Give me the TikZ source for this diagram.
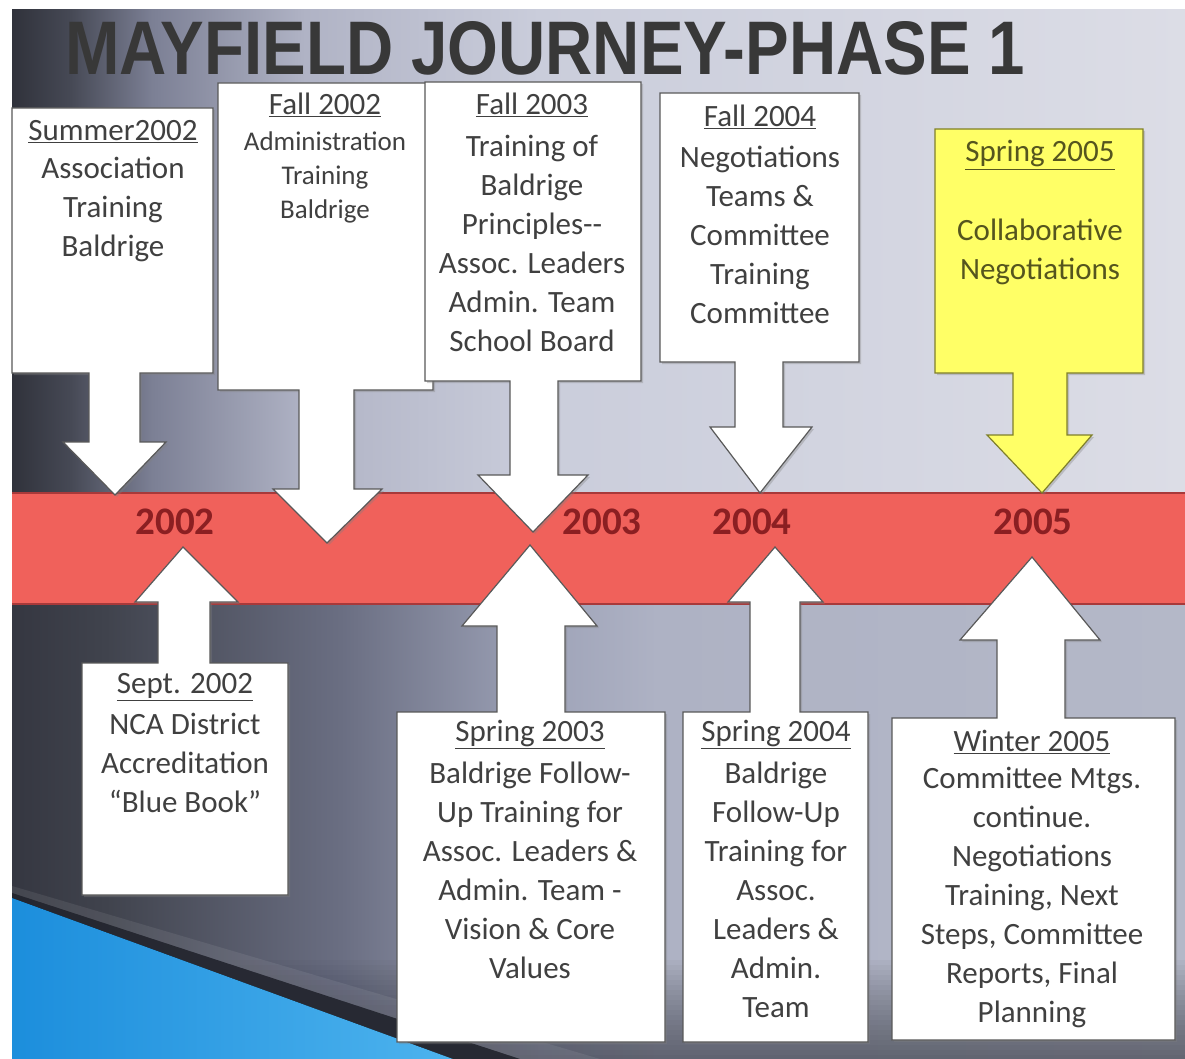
\documentclass[tikz,border=0pt]{standalone}
\usepackage{fontspec}
\setmainfont{Carlito}
\newfontfamily\titlefont{Liberation Sans}
\usetikzlibrary{shadows}

% palette
\definecolor{bgA}{HTML}{30323B}
\definecolor{bgB}{HTML}{464955}
\definecolor{bgC}{HTML}{7C8095}
\definecolor{bgD}{HTML}{B0B3C5}
\definecolor{bgE}{HTML}{CACDDB}
\definecolor{bgF}{HTML}{DCDDE6}
\definecolor{loA}{HTML}{353741}
\definecolor{loB}{HTML}{40434D}
\definecolor{loC}{HTML}{6A6E82}
\definecolor{loD}{HTML}{9EA3B8}
\definecolor{loE}{HTML}{AEB2C4}
\definecolor{loF}{HTML}{B4B8C8}
\definecolor{bandred}{HTML}{F0615B}
\definecolor{bandedge}{HTML}{A8393A}
\definecolor{yeartxt}{HTML}{8B1F22}
\definecolor{txt}{HTML}{404040}
\definecolor{hiyellow}{HTML}{FFFF66}
\definecolor{hiedge}{HTML}{7F7F2A}
\definecolor{hitxt}{HTML}{55551E}
\definecolor{blueA}{HTML}{1C8EDC}
\definecolor{blueB}{HTML}{4DB3EE}
\definecolor{navyband}{HTML}{23252E}

% TikZ fits the middle half (25bp..75bp) of a shading to the path
\pgfdeclarehorizontalshading{upperbg}{100bp}{color(0bp)=(bgA); color(25bp)=(bgA); color(27.5bp)=(bgB); color(31bp)=(bgC); color(37.5bp)=(bgD); color(47.5bp)=(bgE); color(75bp)=(bgF); color(100bp)=(bgF)}
\pgfdeclarehorizontalshading{lowerbg}{100bp}{color(0bp)=(loA); color(25bp)=(loA); color(29bp)=(loB); color(39bp)=(loC); color(47.5bp)=(loD); color(52.5bp)=(loE); color(75bp)=(loF); color(100bp)=(loF)}

\tikzset{
  callout/.style={fill=white, draw=black!65, line width=1.2pt, line join=miter,
    drop shadow={opacity=0.35, shadow xshift=2pt, shadow yshift=-2pt}},
  hicallout/.style={callout, fill=hiyellow, draw=hiedge},
  hdr/.style={inner sep=0pt, text=txt, font=\fontsize{31}{39}\selectfont},
  body/.style={inner sep=0pt, align=center, text=txt, font=\fontsize{31}{39}\selectfont},
  smallbody/.style={body, font=\fontsize{27}{34}\selectfont},
  year/.style={inner sep=0pt, text=yeartxt, font=\fontsize{39}{40}\selectfont\bfseries},
}

\begin{document}
\begin{tikzpicture}[x=1pt, y=-1pt]
\useasboundingbox (0,0) rectangle (1185,1059);
\fill[white] (0,0) rectangle (1185,1059);

% backdrop
\fill[shading=upperbg] (12,10) rectangle (1185,500);
\fill[shading=lowerbg] (12,598) rectangle (1185,1059);
% darker towards the lower edge
\foreach \k in {0,...,19}
  \fill[navyband, opacity=0.035] (12,960+5*\k) rectangle (1185,1059);

% blue corner with its dark rim
\fill[white, opacity=0.08] (12,886) -- (600,1059) -- (520,1059) -- (12,893) -- cycle;
\fill[navyband, opacity=0.9] (12,893) -- (520,1059) -- (12,1059) -- cycle;
\fill[left color=blueA, right color=blueB] (12,898) -- (453,1059) -- (12,1059) -- cycle;

% title
\node[anchor=base west, inner sep=0pt, text=black!78] (title) at (65,75)
  {\resizebox{960pt}{53pt}{\titlefont\bfseries MAYFIELD JOURNEY-PHASE 1}};

% timeline band
\fill[bandred] (12,493) rectangle (1185,604);
\draw[bandedge, line width=1.2pt] (12,493) -- (1185,493) (12,604) -- (1185,604);

\node[year] (y2002) at (175,522) {2002};
\node[year] (y2003) at (602,522) {2003};
\node[year] (y2004) at (752,522) {2004};
\node[year] (y2005) at (1033,522) {2005};

% callouts above the band
\path[callout] (12,108) -- (213,108) -- (213,373) -- (140,373) -- (140,442) -- (166,442)
  -- (115,495) -- (63,442) -- (89,442) -- (89,373) -- (12,373) -- cycle;
\path[callout] (218,83) -- (433,83) -- (433,390) -- (354,390) -- (354,489) -- (382,489)
  -- (327,543) -- (273,489) -- (299,489) -- (299,390) -- (218,390) -- cycle;
\path[callout] (425,82) -- (641,82) -- (641,381) -- (558,381) -- (558,475) -- (588,475)
  -- (533,532) -- (478,475) -- (510,475) -- (510,381) -- (425,381) -- cycle;
\path[callout] (660,93) -- (859,93) -- (859,362) -- (783,362) -- (783,427) -- (812,427)
  -- (760,493) -- (710,427) -- (735,427) -- (735,362) -- (660,362) -- cycle;
\path[hicallout] (935,129) -- (1143,129) -- (1143,373) -- (1067,373) -- (1067,435) -- (1092,435)
  -- (1042,493) -- (987,435) -- (1013,435) -- (1013,373) -- (935,373) -- cycle;

% callouts below the band
\path[callout] (82,895) -- (288,895) -- (288,663) -- (210,663) -- (210,602) -- (238,602)
  -- (183,547) -- (135,602) -- (158,602) -- (158,663) -- (82,663) -- cycle;
\path[callout] (397,1042) -- (665,1042) -- (665,712) -- (565,712) -- (565,626) -- (597,626)
  -- (530,545) -- (462,626) -- (497,626) -- (497,712) -- (397,712) -- cycle;
\path[callout] (683,1042) -- (868,1042) -- (868,712) -- (800,712) -- (800,602) -- (823,602)
  -- (775,547) -- (728,602) -- (750,602) -- (750,712) -- (683,712) -- cycle;
\path[callout] (892,1040) -- (1175,1040) -- (1175,718) -- (1065,718) -- (1065,640) -- (1100,640)
  -- (1032,557) -- (960,640) -- (997,640) -- (997,718) -- (892,718) -- cycle;

% texts above
\node[hdr] (h1) at (113,132) {\underline{Summer2002}};
\node[body] (b1) at (113,209) {Association\\Training\\Baldrige};

\node[hdr] (h2) at (325,105) {\underline{Fall 2002}};
\node[smallbody] (b2) at (325,177) {Administration\\Training\\Baldrige};

\node[hdr] (h3) at (532,105) {\underline{Fall 2003}};
\node[body] (b3) at (532,243) {Training of\\Baldrige\\Principles-{}-\\Assoc. Leaders\\Admin. Team\\School Board};

\node[hdr] (h4) at (760,117) {\underline{Fall 2004}};
\node[body] (b4) at (760,235) {Negotiations\\Teams \&\\Committee\\Training\\Committee};

\node[hdr, text=hitxt] (h5) at (1040,155) {\underline{Spring 2005}};
\node[body, text=hitxt] (b5) at (1040,252) {Collaborative\\Negotiations};

% texts below
\node[hdr] (h6) at (185,687) {\underline{Sept. 2002}};
\node[body] (b6) at (185,763) {NCA District\\Accreditation\\“Blue Book”};

\node[hdr] (h7) at (530,734) {\underline{Spring 2003}};
\node[body] (b7) at (530,870) {Baldrige Follow-\\Up Training for\\Assoc. Leaders \&\\Admin. Team -\\Vision \& Core\\Values};

\node[hdr] (h8) at (776,734) {\underline{Spring 2004}};
\node[body] (b8) at (776,890) {Baldrige\\Follow-Up\\Training for\\Assoc.\\Leaders \&\\Admin.\\Team};

\node[hdr] (h9) at (1032,742) {\underline{Winter 2005}};
\node[body] (b9) at (1032,897) {Committee Mtgs.\\continue.\\Negotiations\\Training, Next\\Steps, Committee\\Reports, Final\\Planning};
\end{tikzpicture}
\end{document}
